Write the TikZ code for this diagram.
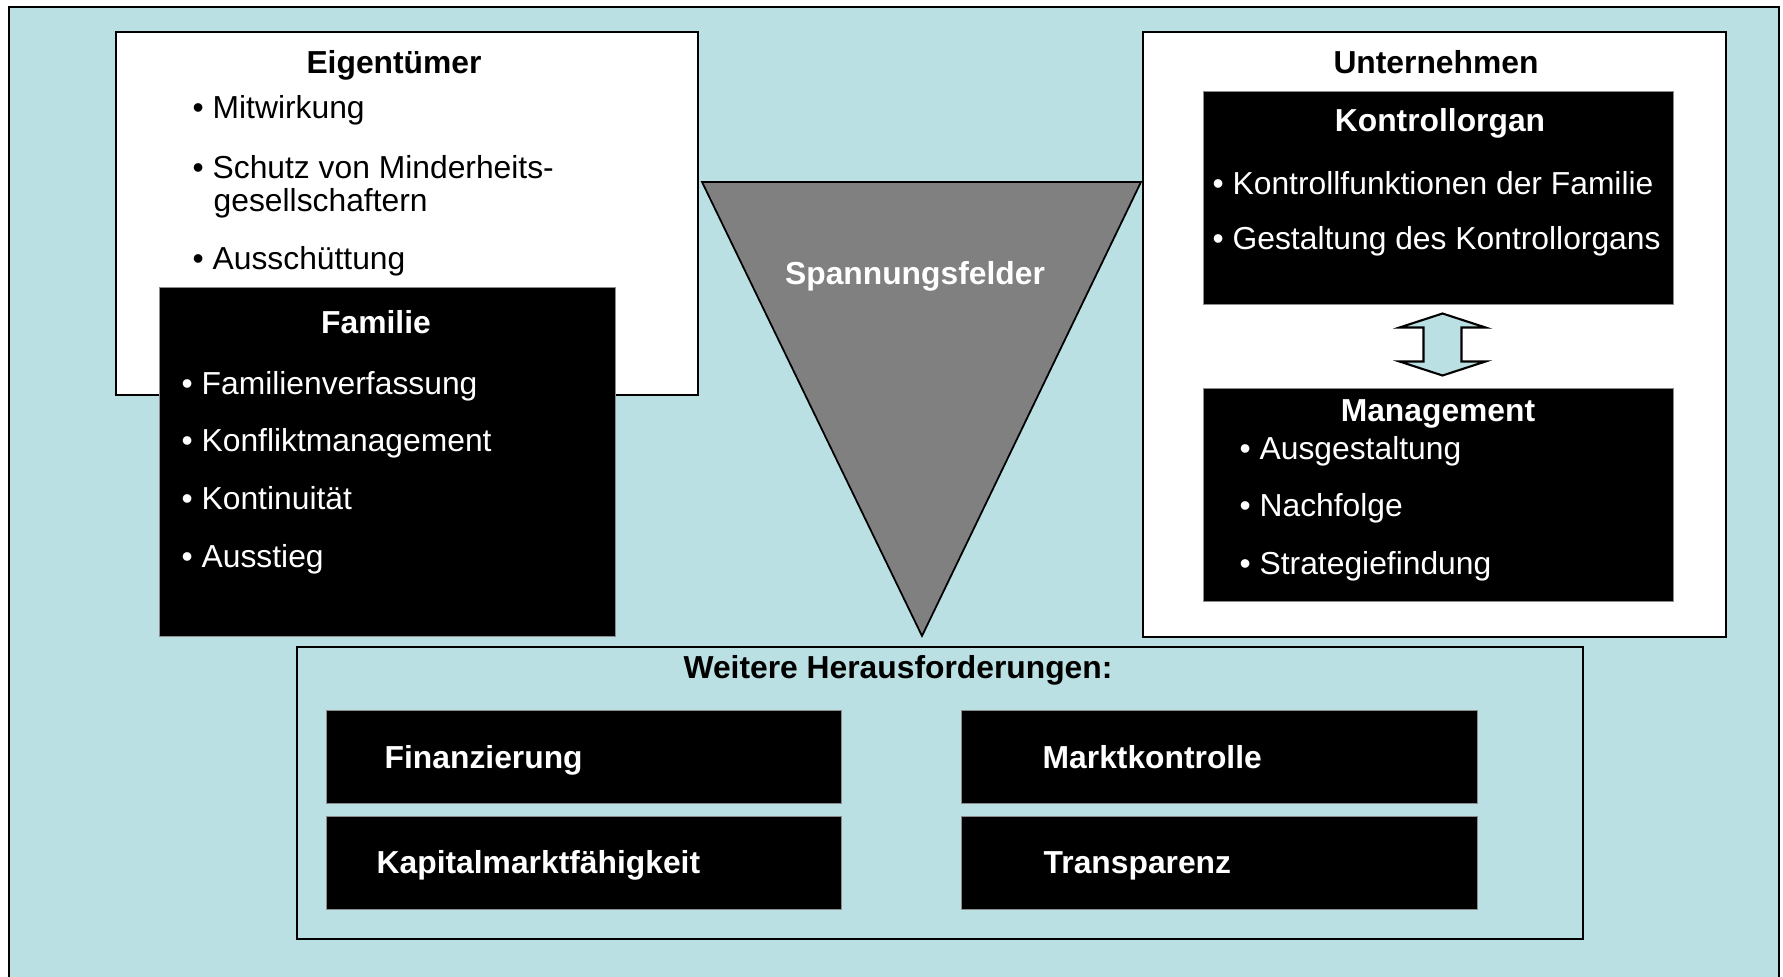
\documentclass[tikz,border=0pt]{standalone}
\usepackage{fontspec}
\setmainfont{Liberation Sans}
\usepackage{xcolor}
\usetikzlibrary{calc}
\definecolor{hellblau}{RGB}{187,224,227}
\definecolor{keilgrau}{RGB}{128,128,128}
\newcommand{\schrift}{\fontsize{9.05pt}{10.9pt}\selectfont}

\tikzset{
	feld/.style={draw, line width=0.6pt, anchor=north west, inner sep=0pt},
	weissfeld/.style={feld, fill=white},
	blaufeld/.style={feld, fill=hellblau},
	schwarzfeld/.style={anchor=north west, inner sep=0pt, fill=black, draw=black!45, line width=0.3pt},
	kopf/.style={font=\schrift\bfseries, inner sep=0pt, text height=6.5pt, text depth=0pt},
	punkt/.style={anchor=west, inner sep=0pt, text height=6.5pt, text depth=0pt},
	wpunkt/.style={punkt, text=white},
	wkopf/.style={kopf, text=white},
	keil/.style={draw, fill=keilgrau, line width=0.5pt},
	doppelpfeil/.style={draw, fill=hellblau, line width=0.6pt, line join=miter}
}

\begin{document}
\begin{tikzpicture}[font=\schrift]
	\useasboundingbox (0,0) rectangle (17.83,9.77);
	\node[blaufeld, minimum width=17.70cm, minimum height=9.73cm] (flaeche) at (0.08,9.71) {};

	% Eigentuemer und Familie
	\node[weissfeld, minimum width=5.82cm, minimum height=3.63cm] (eigentuemer) at (1.15,9.46) {};
	\node[kopf] (eigtitel) at (3.94,9.15) {Eigentümer};
	\node[punkt] (mitwirkung) at (1.92,8.70) {• Mitwirkung};
	\node[punkt] (schutz) at (1.92,8.10) {• Schutz von Minderheits-};
	\node[punkt] (schutzb) at (2.13,7.77) {gesellschaftern};
	\node[punkt] (ausschuettung) at (1.92,7.19) {• Ausschüttung};

	\node[schwarzfeld, minimum width=4.56cm, minimum height=3.49cm] (familie) at (1.59,6.90) {};
	\node[wkopf] (famtitel) at (3.76,6.55) {Familie};
	\node[wpunkt] (verfassung) at (1.81,5.94) {• Familienverfassung};
	\node[wpunkt] (konflikt) at (1.81,5.37) {• Konfliktmanagement};
	\node[wpunkt] (kontinuitaet) at (1.81,4.79) {• Kontinuität};
	\node[wpunkt] (ausstieg) at (1.81,4.21) {• Ausstieg};

	% Keil in der Mitte
	\draw[keil] (7.02,7.95) -- (11.41,7.95) -- (9.22,3.41) -- cycle;
	\node[wkopf] (spannung) at (9.15,7.04) {Spannungsfelder};

	% Unternehmen
	\node[weissfeld, minimum width=5.83cm, minimum height=6.05cm] (unternehmen) at (11.42,9.46) {};
	\node[kopf] (untitel) at (14.36,9.15) {Unternehmen};
	\node[schwarzfeld, minimum width=4.70cm, minimum height=2.13cm] (kontroll) at (12.03,8.86) {};
	\node[wkopf] (kontitel) at (14.40,8.57) {Kontrollorgan};
	\node[wpunkt] (funktionen) at (12.12,7.94) {• Kontrollfunktionen der Familie};
	\node[wpunkt] (gestaltung) at (12.12,7.39) {• Gestaltung des Kontrollorgans};

	\node[schwarzfeld, minimum width=4.70cm, minimum height=2.13cm] (management) at (12.03,5.89) {};
	\node[wkopf] (mantitel) at (14.38,5.67) {Management};
	\node[wpunkt] (ausgestaltung) at (12.39,5.29) {• Ausgestaltung};
	\node[wpunkt] (nachfolge) at (12.39,4.72) {• Nachfolge};
	\node[wpunkt] (strategie) at (12.39,4.14) {• Strategiefindung};

	\coordinate (mitte) at ($(kontroll.south)!0.5!(management.north)+(0.04,0.02)$);
	\draw[doppelpfeil] ($(mitte)+(0,0.31)$) -- ++(0.43,-0.14) -- ++(-0.24,0) -- ++(0,-0.34) -- ++(0.24,0)
		-- ++(-0.43,-0.14) -- ++(-0.43,0.14) -- ++(0.24,0) -- ++(0,0.34) -- ++(-0.24,0) -- cycle;

	% weitere Herausforderungen
	\node[blaufeld, minimum width=12.86cm, minimum height=2.92cm] (weitere) at (2.96,3.31) {};
	\node[kopf] (weititel) at (8.98,3.10) {Weitere Herausforderungen:};
	\node[schwarzfeld, minimum width=5.15cm, minimum height=0.93cm] (finanz) at (3.26,2.67) {};
	\node[schwarzfeld, minimum width=5.15cm, minimum height=0.93cm] (kapital) at (3.26,1.61) {};
	\node[schwarzfeld, minimum width=5.16cm, minimum height=0.93cm] (markt) at (9.61,2.67) {};
	\node[schwarzfeld, minimum width=5.16cm, minimum height=0.93cm] (transparenz) at (9.61,1.61) {};
	\node[wkopf, anchor=west] (finanztext) at (3.84,2.20) {Finanzierung};
	\node[wkopf, anchor=west] (kapitaltext) at (3.76,1.15) {Kapitalmarktfähigkeit};
	\node[wkopf, anchor=west] (markttext) at (10.42,2.20) {Marktkontrolle};
	\node[wkopf, anchor=west] (transtext) at (10.43,1.15) {Transparenz};
\end{tikzpicture}
\end{document}
